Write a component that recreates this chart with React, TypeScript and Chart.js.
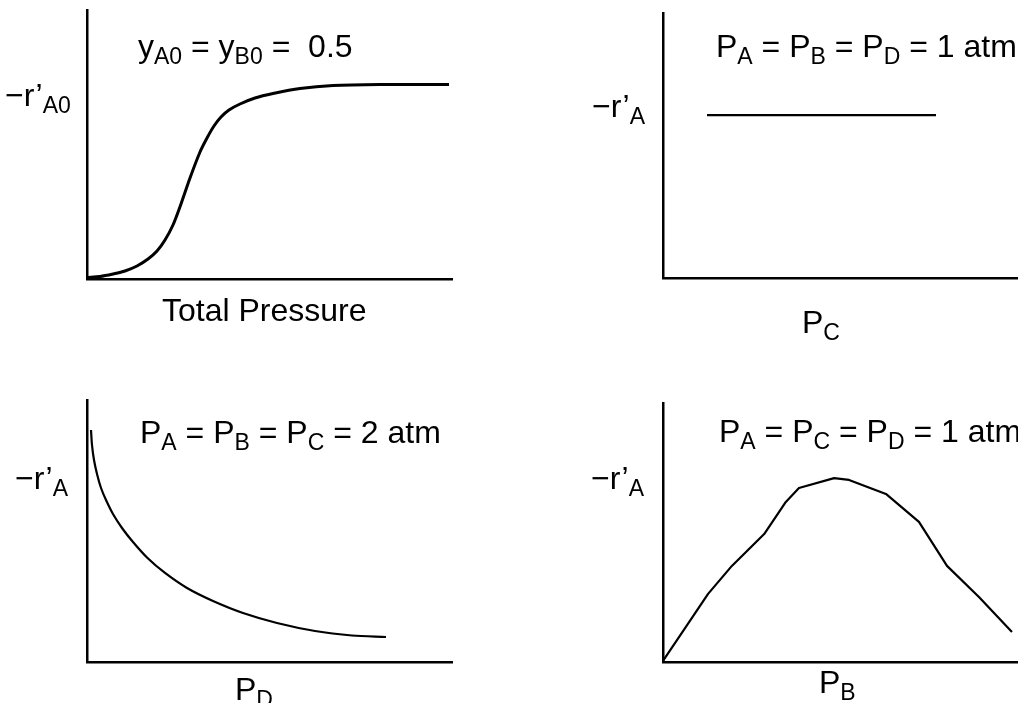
import React, { useEffect, useRef } from "react";
import { Chart, registerables } from "chart.js";

Chart.register(...registerables);

// Panel 1: -r'A0 vs total pressure (S-shaped)
const p1X = [0, 3.56, 7.12, 10.41, 13.7, 16.71, 19.18, 21.37, 23.56, 25.75, 28.22, 30.96, 32.88, 34.79, 36.71, 38.9, 41.92, 46.03, 50.96, 58.36, 67.4, 80.27, 99.18];
const p1Y = [0.56, 0.93, 1.86, 2.97, 4.83, 7.43, 10.41, 14.5, 20.07, 27.88, 37.55, 47.21, 52.42, 56.88, 60.22, 62.83, 65.06, 67.29, 68.96, 70.82, 71.93, 72.3, 72.3];

// Panel 2: -r'A vs PC (flat)
const p2X = [12.4, 76.9];
const p2Y = [61.5, 61.5];

// Panel 3: -r'A vs PD (decaying)
const p3X = [1.1, 1.37, 1.92, 2.74, 3.84, 5.21, 7.12, 9.59, 12.6, 16.44, 21.37, 27.4, 34.52, 42.74, 52.05, 62.47, 72.6, 81.92];
const p3Y = [88.55, 82.82, 77.1, 71.76, 66.41, 61.83, 56.49, 51.15, 45.8, 39.89, 33.97, 28.24, 23.28, 18.7, 14.89, 11.83, 10.11, 9.54];

// Panel 4: -r'A vs PB (maximum)
const p4X = [0, 12.7, 19.4, 28.5, 34.6, 38.3, 48.2, 52.4, 62.8, 72.1, 80.0, 89.0, 98.3];
const p4Y = [0.4, 26.3, 37.1, 49.4, 61.8, 67.2, 71.0, 70.3, 64.9, 54.1, 37.1, 25.1, 11.6];

type Pad = { left: number; right: number; top: number; bottom: number };

function makeConfig(xs: number[], ys: number[], pad: Pad, tension: number, lineWidth: number): any {
  const axis = {
    type: "linear",
    min: 0,
    max: 100,
    grid: { display: false, drawTicks: false },
    ticks: { display: false },
    border: { display: true, color: "#000", width: 2.5 },
  };
  return {
    type: "line",
    data: {
      datasets: [
        {
          data: xs.map((x, i) => ({ x, y: ys[i] })),
          borderColor: "#000",
          borderWidth: lineWidth,
          pointRadius: 0,
          fill: false,
          clip: false,
          tension,
          borderJoinStyle: "round",
        },
      ],
    },
    options: {
      animation: false,
      responsive: false,
      events: [],
      layout: { padding: pad },
      plugins: { legend: { display: false }, tooltip: { enabled: false } },
      scales: { x: { ...axis }, y: { ...axis } },
    },
  };
}

const FONT = '"Liberation Sans", Arial, Helvetica, sans-serif';
const MAIN = 32;
const SUB = 23;

function Sub({ children }: { children: React.ReactNode }) {
  return (
    <span style={{ fontSize: SUB, position: "relative", top: 7 }}>{children}</span>
  );
}

function Label({ left, baseline, children }: { left: number; baseline: number; children: React.ReactNode }) {
  return (
    <div
      style={{
        position: "absolute",
        left,
        top: baseline - 0.8465 * MAIN,
        fontSize: MAIN,
        lineHeight: 1,
        whiteSpace: "pre",
        fontFamily: FONT,
        color: "#000",
      }}
    >
      {children}
    </div>
  );
}

export default function App() {
  const c1 = useRef<HTMLCanvasElement>(null);
  const c2 = useRef<HTMLCanvasElement>(null);
  const c3 = useRef<HTMLCanvasElement>(null);
  const c4 = useRef<HTMLCanvasElement>(null);

  useEffect(() => {
    const charts: Chart[] = [];
    if (c1.current)
      charts.push(new Chart(c1.current, makeConfig(p1X, p1Y, { left: 87, right: 57, top: 10, bottom: 71 }, 0.3, 3)));
    if (c2.current)
      charts.push(new Chart(c2.current, makeConfig(p2X, p2Y, { left: 154, right: 0, top: 13, bottom: 72 }, 0, 2.2)));
    if (c3.current)
      charts.push(new Chart(c3.current, makeConfig(p3X, p3Y, { left: 87, right: 57, top: 50, bottom: 41 }, 0.3, 2.2)));
    if (c4.current)
      charts.push(new Chart(c4.current, makeConfig(p4X, p4Y, { left: 154, right: 0, top: 53, bottom: 41 }, 0, 2.2)));
    return () => charts.forEach((c) => c.destroy());
  }, []);

  const cv = (left: number, top: number, w: number, h: number): React.CSSProperties => ({
    position: "absolute",
    left,
    top,
    width: w,
    height: h,
    display: "block",
  });

  return (
    <div
      style={{
        position: "absolute",
        left: 0,
        top: 0,
        width: 1018,
        height: 703,
        background: "#fff",
        overflow: "hidden",
        fontFamily: FONT,
      }}
    >
      <canvas ref={c1} width={509} height={350} style={cv(0, 0, 509, 350)} />
      <canvas ref={c2} width={509} height={350} style={cv(509, 0, 509, 350)} />
      <canvas ref={c3} width={509} height={353} style={cv(0, 350, 509, 353)} />
      <canvas ref={c4} width={509} height={353} style={cv(509, 350, 509, 353)} />

      {/* Panel 1 */}
      <Label left={138} baseline={57}>
        y<Sub>A0</Sub> = y<Sub>B0</Sub> =  0.5
      </Label>
      <Label left={5} baseline={106}>
        −r’<Sub>A0</Sub>
      </Label>
      <Label left={162} baseline={321}>Total Pressure</Label>

      {/* Panel 2 */}
      <Label left={716} baseline={57}>
        P<Sub>A</Sub> = P<Sub>B</Sub> = P<Sub>D</Sub> = 1 atm
      </Label>
      <Label left={592} baseline={117}>
        −r’<Sub>A</Sub>
      </Label>
      <Label left={802} baseline={333}>
        P<Sub>C</Sub>
      </Label>

      {/* Panel 3 */}
      <Label left={140} baseline={443}>
        P<Sub>A</Sub> = P<Sub>B</Sub> = P<Sub>C</Sub> = 2 atm
      </Label>
      <Label left={15} baseline={489}>
        −r’<Sub>A</Sub>
      </Label>
      <Label left={235} baseline={700}>
        P<Sub>D</Sub>
      </Label>

      {/* Panel 4 */}
      <Label left={719} baseline={442}>
        P<Sub>A</Sub> = P<Sub>C</Sub> = P<Sub>D</Sub> = 1 atm
      </Label>
      <Label left={591} baseline={489}>
        −r’<Sub>A</Sub>
      </Label>
      <Label left={819} baseline={693}>
        P<Sub>B</Sub>
      </Label>
    </div>
  );
}
